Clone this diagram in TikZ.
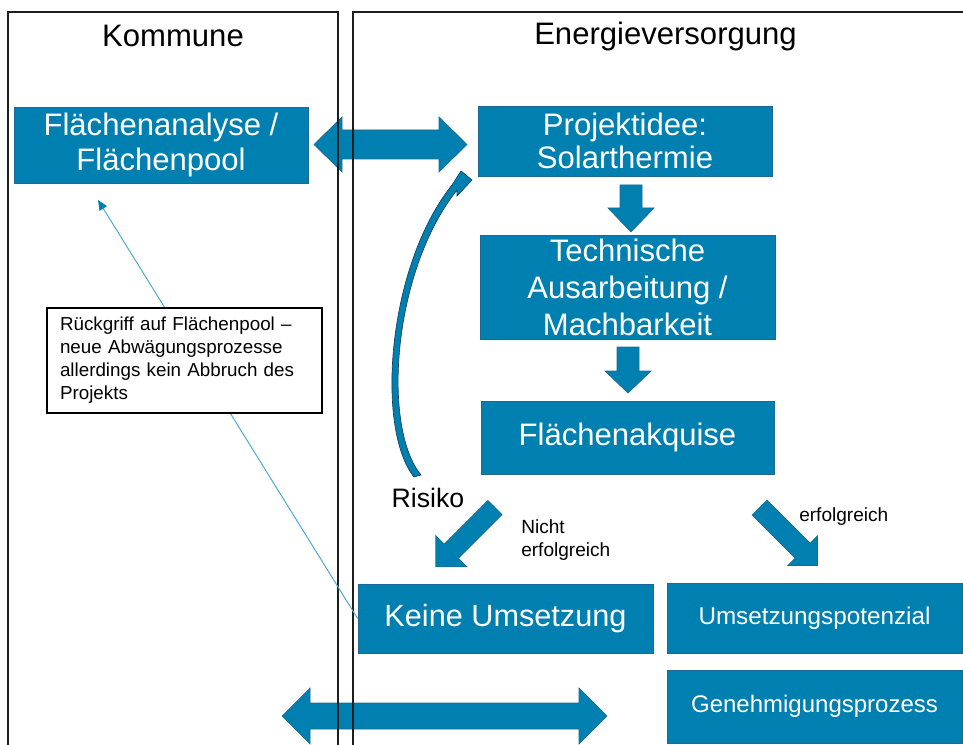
\documentclass[tikz,border=0pt]{standalone}
\usepackage{fontspec}
\setmainfont{Liberation Sans}
\usetikzlibrary{arrows.meta}
\definecolor{boxblue}{RGB}{0,128,176}
\definecolor{boxedge}{RGB}{30,105,145}
\definecolor{linkblue}{RGB}{80,168,214}
\definecolor{curveedge}{RGB}{20,65,95}
\definecolor{panelline}{RGB}{30,30,30}
\newcommand\blockarrow[7]{%
  \filldraw[arrowfill,shift={(#1,#2)},rotate=#3] (0,#5) -- ({#4-#7},#5) -- ({#4-#7},#6) -- (#4,0) -- ({#4-#7},-#6) -- ({#4-#7},-#5) -- (0,-#5) -- cycle;}
\newcommand\dblarrow[6]{%
  \filldraw[arrowfill] (#1,#3) -- ({#1+#6},{#3-#5}) -- ({#1+#6},{#3-#4}) -- ({#2-#6},{#3-#4}) -- ({#2-#6},{#3-#5}) -- (#2,#3) -- ({#2-#6},{#3+#5}) -- ({#2-#6},{#3+#4}) -- ({#1+#6},{#3+#4}) -- ({#1+#6},{#3+#5}) -- cycle;}
\begin{document}
\begin{tikzpicture}[x=0.75pt,y=-0.75pt,
  arrowfill/.style={fill=boxblue,draw=boxedge,line width=0.5pt},
  box/.style={fill=boxblue,draw=boxedge,line width=0.6pt,text=white,align=center,inner sep=0pt,
    font=\fontsize{23.3pt}{26.25pt}\selectfont},
  title/.style={font=\fontsize{23.3pt}{28pt}\selectfont,text=black,inner sep=0pt},
  note/.style={draw=black,fill=white,line width=0.9pt,minimum width=206.25pt,minimum height=78.75pt,
    text width=186.75pt,inner xsep=9.75pt,inner ysep=0pt,align=left,font=\fontsize{14.1pt}{17.25pt}\selectfont},
  small/.style={font=\fontsize{14.3pt}{17.25pt}\selectfont,inner sep=0pt,align=left,text=black},
  panel/.style={draw=panelline,line width=1.1pt}]
\useasboundingbox (0,0) rectangle (963,745);

% block arrows
\dblarrow{314}{467}{144.5}{14.5}{27.5}{28}
\dblarrow{282}{607}{716}{13}{28}{28}
\blockarrow{631}{185}{-90}{47}{11}{23}{24}
\blockarrow{628}{347}{-90}{46}{11}{23}{22}
\blockarrow{495}{507.5}{-135}{83.8}{10}{22}{22}
\blockarrow{759.5}{507.5}{-45}{82}{10.5}{21}{21}

% panels
\draw[panel] (8,750) -- (8,12) -- (338,12) -- (338,750);
\draw[panel] (353,750) -- (353,12) -- (970,12);

% titles
\node[title] (tk) at (173,36) {Kommune};
\node[title] (te) at (665.5,36) {Energieversorgung};

% boxes
\node[box,minimum width=220.5pt,minimum height=57pt] (fa) at (161,145) {Flächenanalyse /\\Flächenpool};
\node[box,minimum width=220.5pt,minimum height=52.5pt,font=\fontsize{23.3pt}{24.75pt}\selectfont] (pi) at (625,141) {Projektidee:\\Solarthermie};
\node[box,minimum width=221.25pt,minimum height=78pt,font=\fontsize{23.3pt}{27.75pt}\selectfont] (ta) at (627.5,287) {Technische\\Ausarbeitung /\\Machbarkeit};
\node[box,minimum width=219.75pt,minimum height=54.75pt] (fq) at (627.5,437.5) {Flächenakquise};
\node[box,minimum width=221.25pt,minimum height=51.75pt,font=\fontsize{23pt}{26pt}\selectfont] (ku) at (505.5,618.5) {Keine Umsetzung};
\node[box,minimum width=221.25pt,minimum height=52.5pt,font=\fontsize{18.2pt}{22pt}\selectfont] (up) at (814.5,618) {Umsetzungspotenzial};
\node[box,minimum width=221.25pt,minimum height=54.75pt,font=\fontsize{18pt}{22pt}\selectfont] (gp) at (814.5,706.5) {Genehmigungsprozess};

% thin link line
\coordinate (fp) at (98,200);
\draw[linkblue,line width=0.75pt,-{Triangle[length=7.5pt,width=6.5pt,color=boxblue]}] (ku.west) -- (fp);

% note
\node[note] (nt) at (184.5,360.5) {Rückgriff auf Flächenpool –\\neue Abwägungsprozesse\\allerdings kein Abbruch des\\Projekts};

% curved risk arrow
\filldraw[fill=boxblue,draw=curveedge,line width=0.5pt]
  (414,477) .. controls (376,430) and (386,268) .. (452,185)
  -- (461,171) -- (472,180) -- (457,196) -- (457,190)
  .. controls (392,272) and (382,428) .. (421,475) -- cycle;

% labels
\node[font=\fontsize{20pt}{24pt}\selectfont,inner sep=0pt] (rk) at (428,498) {Risiko};
\node[small,anchor=west] (ne) at (521,540) {Nicht\\erfolgreich};
\node[small,anchor=west] (er) at (799,517) {erfolgreich};
\end{tikzpicture}
\end{document}
